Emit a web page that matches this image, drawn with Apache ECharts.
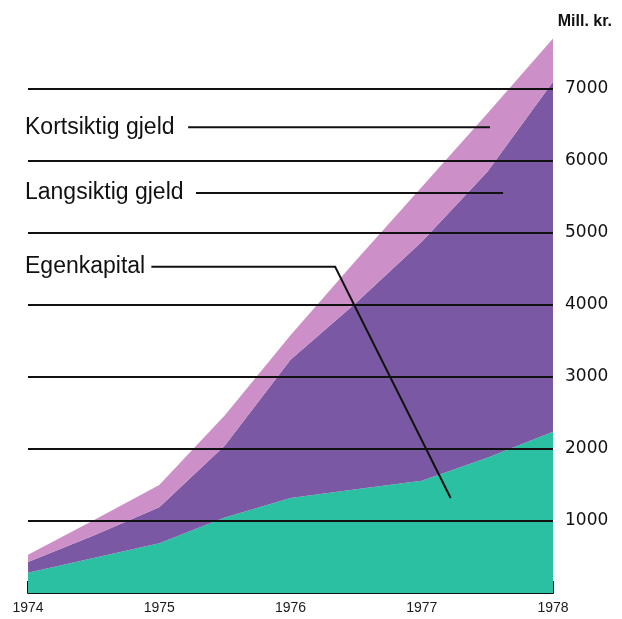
<!DOCTYPE html>
<html>
<head>
<meta charset="utf-8">
<script src="https://cdn.jsdelivr.net/npm/echarts@6/dist/echarts.min.js"></script>
<style>
  html, body { margin: 0; padding: 0; background: #fff; }
  #chart { width: 622px; height: 619px; }
</style>
</head>
<body>
<div id="chart"></div>
<script>
// years, with half-year points so the bends come out right
const years = ['1974', '1974.5', '1975', '1975.5', '1976', '1976.5', '1977', '1977.5', '1978'];
// Mill. kr. (stacked bottom to top)
const egenkapital = [280, 485, 690, 1050, 1320, 1440, 1560, 1880, 2240];
const langsiktigGjeld = [150, 315, 500, 1000, 1920, 2590, 3320, 3970, 4860];
const kortsiktigGjeld = [100, 210, 310, 420, 340, 590, 760, 810, 600];
const gridValues = [1000, 2000, 3000, 4000, 5000, 6000, 7000];

// leader lines for the labels: [year, value]
const leaders = [
    { name: 'Kortsiktig gjeld', pts: [[1975.22, 6470], [1977.52, 6470]] },
    { name: 'Langsiktig gjeld', pts: [[1975.28, 5555], [1977.62, 5555]] },
    { name: 'Egenkapital', pts: [[1974.94, 4530], [1976.34, 4530], [1977.22, 1320]] }
];

const chart = echarts.init(document.getElementById('chart'));

const isYear = (i, v) => String(v).indexOf('.') < 0;

const option = {
    backgroundColor: '#fff',
    animation: false,
    grid: { left: 28, right: 69, top: 17, bottom: 26 },
    xAxis: {
        type: 'category',
        data: years,
        boundaryGap: false,
        axisLine: { lineStyle: { color: '#111', width: 2 } },
        axisTick: { inside: true, length: 12, interval: isYear, lineStyle: { color: '#111', width: 2 } },
        axisLabel: {
            color: '#1a1a1a', fontSize: 14, fontFamily: 'Liberation Sans', margin: 8,
            interval: isYear
        },
        splitLine: { show: false }
    },
    yAxis: {
        type: 'value',
        position: 'right',
        min: 0,
        max: 8000,
        interval: 1000,
        axisLine: { show: false },
        axisTick: { show: false },
        splitLine: { show: false },
        axisLabel: {
            color: '#111', fontSize: 17, fontFamily: 'DejaVu Sans', margin: 12,
            formatter: v => (gridValues.includes(v) ? String(v) : '')
        }
    },
    graphic: [{
        type: 'text', right: 10, top: 14,
        style: { text: 'Mill. kr.', fill: '#111', font: 'bold 16px "Liberation Sans"' }
    }],
    series: [
        {
            name: 'Egenkapital', type: 'line', stack: 'total', symbol: 'none',
            lineStyle: { width: 0 }, areaStyle: { color: '#2cc0a2', opacity: 1 },
            data: egenkapital
        },
        {
            name: 'Langsiktig gjeld', type: 'line', stack: 'total', symbol: 'none',
            lineStyle: { width: 0 }, areaStyle: { color: '#7a58a4', opacity: 1 },
            data: langsiktigGjeld
        },
        {
            name: 'Kortsiktig gjeld', type: 'line', stack: 'total', symbol: 'none',
            lineStyle: { width: 0 }, areaStyle: { color: '#cc8fc8', opacity: 1 },
            data: kortsiktigGjeld,
            markLine: {
                silent: true, symbol: 'none', z: 10,
                label: { show: false },
                lineStyle: { color: '#111', width: 2, type: 'solid' },
                data: gridValues.map(v => ({ yAxis: v }))
            }
        }
    ]
};
chart.setOption(option);

// category axis rounds to whole categories, so place fractional years by interpolation
const first = chart.convertToPixel({ gridIndex: 0 }, [0, 0]);
const last = chart.convertToPixel({ gridIndex: 0 }, [years.length - 1, 0]);
const y0 = Number(years[0]), y1 = Number(years[years.length - 1]);
function toPx(p) {
    const x = first[0] + (p[0] - y0) / (y1 - y0) * (last[0] - first[0]);
    const y = chart.convertToPixel({ gridIndex: 0 }, [0, p[1]])[1];
    return [x, y];
}

// labels and their leader lines
const extra = [];
leaders.forEach(l => {
    const px = l.pts.map(toPx);
    extra.push({
        type: 'polyline', z: 20,
        shape: { points: px },
        style: { stroke: '#111', lineWidth: 2, fill: null }
    });
    extra.push({
        type: 'text', z: 20, x: 25, y: px[0][1],
        style: {
            text: l.name, fill: '#111', font: '23px "Liberation Sans"',
            align: 'left', verticalAlign: 'middle'
        }
    });
});
chart.setOption({ graphic: option.graphic.concat(extra) });
</script>
</body>
</html>
